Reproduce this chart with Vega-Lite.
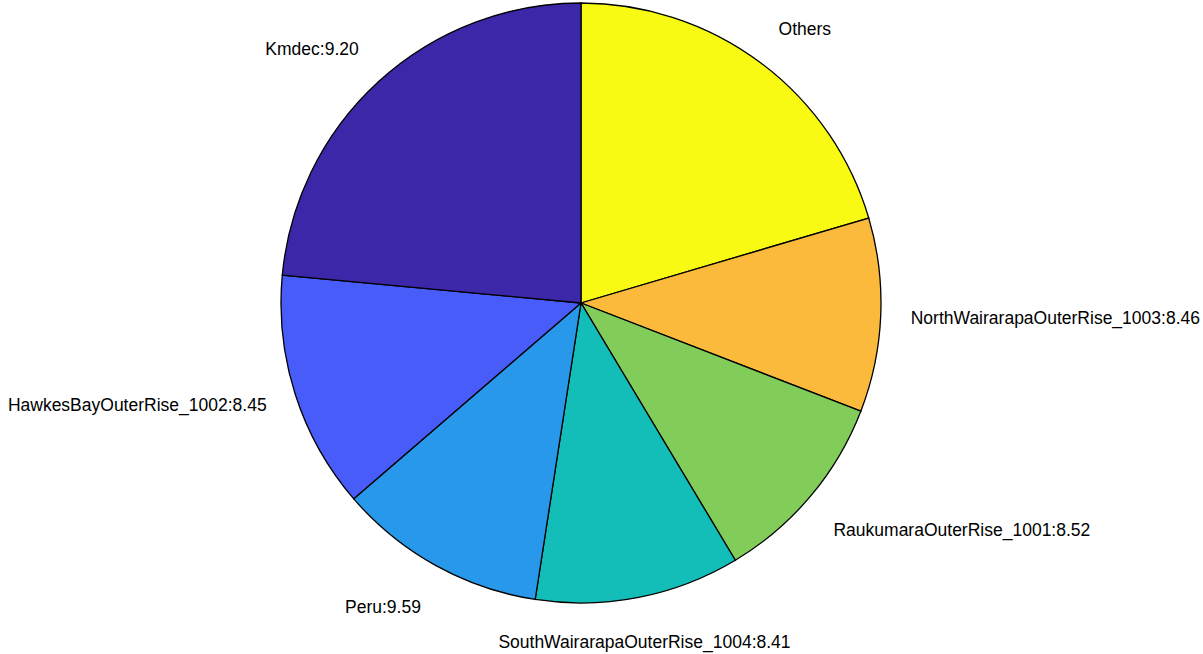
{
  "$schema": "https://vega.github.io/schema/vega-lite/v6.json",
  "width": 1162,
  "height": 606,
  "autosize": {"type": "none"},
  "padding": {"left": 0, "top": 0, "right": 41, "bottom": 48},
  "background": "white",
  "view": {"stroke": null},
  "data": {
    "values": [
      {"idx": 1, "name": "Others", "label": "Others", "pct": 20.43},
      {"idx": 2, "name": "NorthWairarapaOuterRise_1003", "label": "NorthWairarapaOuterRise_1003:8.46", "pct": 10.44},
      {"idx": 3, "name": "RaukumaraOuterRise_1001", "label": "RaukumaraOuterRise_1001:8.52", "pct": 10.53},
      {"idx": 4, "name": "SouthWairarapaOuterRise_1004", "label": "SouthWairarapaOuterRise_1004:8.41", "pct": 11.04},
      {"idx": 5, "name": "Peru", "label": "Peru:9.59", "pct": 11.24},
      {"idx": 6, "name": "HawkesBayOuterRise_1002", "label": "HawkesBayOuterRise_1002:8.45", "pct": 12.80},
      {"idx": 7, "name": "Kmdec", "label": "Kmdec:9.20", "pct": 23.52}
    ]
  },
  "encoding": {
    "theta": {"field": "pct", "type": "quantitative", "stack": true, "scale": {"domain": [0, 100]}},
    "order": {"field": "idx", "type": "quantitative"}
  },
  "layer": [
    {
      "mark": {"type": "arc", "outerRadius": 300, "stroke": "black", "strokeWidth": 1.3, "opacity": 1},
      "encoding": {
        "color": {
          "field": "name",
          "type": "nominal",
          "legend": null,
          "scale": {
            "domain": ["Others", "NorthWairarapaOuterRise_1003", "RaukumaraOuterRise_1001", "SouthWairarapaOuterRise_1004", "Peru", "HawkesBayOuterRise_1002", "Kmdec"],
            "range": ["#F8FA14", "#FCBA3D", "#82CC5A", "#14BEB8", "#2898EA", "#485CFA", "#3D27A9"]
          }
        }
      }
    },
    {
      "mark": {
        "type": "text",
        "radius": 330,
        "font": "Liberation Sans",
        "fontSize": 17.5,
        "color": "black",
        "align": {"expr": "abs(sin(PI * (datum.pct_start + datum.pct_end) / 100)) < 0.25 ? 'center' : (sin(PI * (datum.pct_start + datum.pct_end) / 100) > 0 ? 'left' : 'right')"},
        "baseline": {"expr": "cos(PI * (datum.pct_start + datum.pct_end) / 100) > 0.35 ? 'bottom' : (cos(PI * (datum.pct_start + datum.pct_end) / 100) < -0.35 ? 'top' : 'middle')"},
        "dy": {"expr": "cos(PI * (datum.pct_start + datum.pct_end) / 100) > 0.35 ? 0 : (cos(PI * (datum.pct_start + datum.pct_end) / 100) < -0.35 ? 7 : 3)"}
      },
      "encoding": {
        "text": {"field": "label", "type": "nominal"}
      }
    }
  ]
}
